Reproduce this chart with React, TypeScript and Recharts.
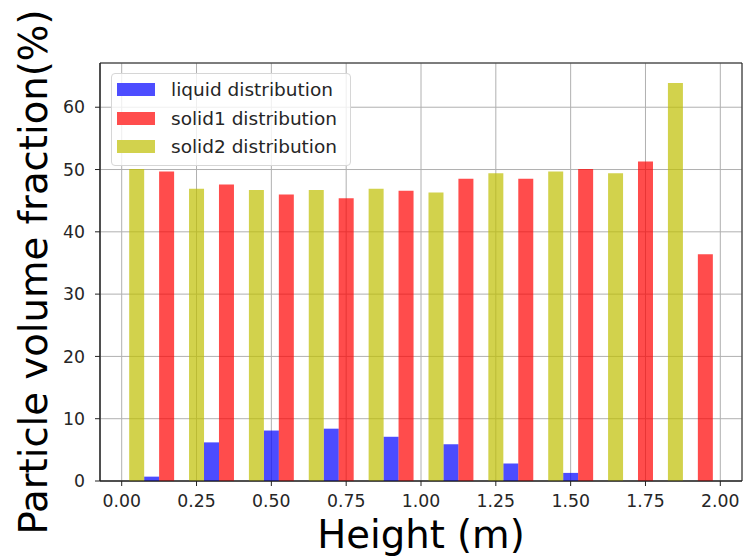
import React from 'react';
import { BarChart, Bar, XAxis, YAxis, CartesianGrid, Legend, ReferenceArea, Label } from 'recharts';

// Bar positions (m) and values (%) per series
const liquidX = [0.1, 0.3, 0.5, 0.7, 0.9, 1.1, 1.3, 1.5, 1.7, 1.9];
const liquidVals = [0.7, 6.2, 8.1, 8.4, 7.1, 5.9, 2.8, 1.3, 0, 0];
const solid1X = [0.15, 0.35, 0.55, 0.75, 0.95, 1.15, 1.35, 1.55, 1.75, 1.95];
const solid1Vals = [49.7, 47.6, 46.0, 45.4, 46.6, 48.5, 48.5, 50.1, 51.3, 36.4];
const solid2X = [0.05, 0.25, 0.45, 0.65, 0.85, 1.05, 1.25, 1.45, 1.65, 1.85];
const solid2Vals = [50.1, 46.9, 46.7, 46.7, 46.9, 46.3, 49.4, 49.7, 49.4, 63.9];

const seriesNames = ['liquid distribution', 'solid1 distribution', 'solid2 distribution'];
const seriesKeys = ['liquid', 'solid1', 'solid2'];
const seriesColors = ['#0000ff', '#ff0000', '#bfbf00'];
const legendColors = ['#4d4dff', '#ff4d4d', '#d2d24d'];

const xTicks = [0, 0.25, 0.5, 0.75, 1.0, 1.25, 1.5, 1.75, 2.0];
const yTicks = [0, 10, 20, 30, 40, 50, 60];
const xDomain = [-0.0725, 2.0725];
const yDomain = [0, 67.1];

const buildTable = () => {
  const map = new Map<number, any>();
  const add = (xs: number[], vs: number[], key: string) => {
    xs.forEach((x, i) => {
      const row = map.get(x) || { x };
      row[key] = vs[i];
      map.set(x, row);
    });
  };
  add(liquidX, liquidVals, 'liquid');
  add(solid1X, solid1Vals, 'solid1');
  add(solid2X, solid2Vals, 'solid2');
  return Array.from(map.values()).sort((a, b) => a.x - b.x);
};
const data = buildTable();

const FONT = '"DejaVu Sans", sans-serif';

const LegendBox = (props: any) => {
  const payload = props.payload || [];
  return (
    <div
      style={{
        boxSizing: 'border-box',
        width: 240,
        height: 93,
        background: 'rgba(255,255,255,0.8)',
        border: '1px solid #d6d6d6',
        borderRadius: 4,
        paddingTop: 1,
        paddingLeft: 5,
        fontFamily: FONT,
        fontSize: 18.5,
        color: '#262626',
      }}
    >
      {payload.map((p: any, i: number) => {
        const idx = seriesNames.indexOf(p.value);
        return (
          <div key={i} style={{ height: 28.7, display: 'flex', alignItems: 'center' }}>
            <div style={{ width: 38, height: 13, background: legendColors[idx >= 0 ? idx : i], marginRight: 16, flexShrink: 0 }} />
            <span style={{ whiteSpace: 'nowrap' }}>{p.value}</span>
          </div>
        );
      })}
    </div>
  );
};

const YLabel = (props: any) => {
  const vb = props.viewBox || {};
  const x = 47;
  const y = vb.y + vb.height / 2;
  return (
    <text
      x={x}
      y={y}
      transform={`rotate(-90, ${x}, ${y})`}
      textAnchor="middle"
      fontFamily={FONT}
      fontSize={38.6}
      fill="#000"
    >
      Particle volume fraction(%)
    </text>
  );
};

export default function App() {
  return (
    <div style={{ position: 'absolute', left: 0, top: 0, width: 743, height: 557, background: '#fff' }}>
      <BarChart
        width={743}
        height={557}
        data={data}
        margin={{ top: 63, right: 1, left: 0, bottom: 0 }}
        barCategoryGap={0}
        barGap={0}
      >
        <CartesianGrid stroke="#b0b0b0" strokeWidth={1} />
        <XAxis
          dataKey="x"
          type="number"
          domain={xDomain}
          allowDataOverflow
          ticks={xTicks}
          tickFormatter={(v: number) => v.toFixed(2)}
          height={76}
          tickSize={5}
          tickMargin={9}
          stroke="#222"
          tick={{ fill: '#262626', fontSize: 17.3, fontFamily: FONT }}
        >
          <Label value="Height (m)" position="insideBottom" offset={9} style={{ fontFamily: FONT, fontSize: 38.6, fill: '#000' }} />
        </XAxis>
        <YAxis
          type="number"
          domain={yDomain}
          allowDataOverflow
          ticks={yTicks}
          width={100}
          tickSize={5}
          tickMargin={10}
          stroke="#222"
          tick={{ fill: '#262626', fontSize: 17.3, fontFamily: FONT }}
          label={<YLabel />}
        />
        {seriesKeys.map((k, i) => (
          <Bar
            key={k}
            dataKey={k}
            name={seriesNames[i]}
            stackId="a"
            fill={seriesColors[i]}
            fillOpacity={0.7}
            isAnimationActive={false}
          />
        ))}
        <ReferenceArea x1={xDomain[0]} x2={xDomain[1]} y1={yDomain[0]} y2={yDomain[1]} fill="none" stroke="#222" strokeWidth={1} ifOverflow="visible" />
        <Legend
          layout="vertical"
          align="center"
          verticalAlign="middle"
          content={<LegendBox />}
          wrapperStyle={{ left: 111, top: 73, width: 240, height: 93 }}
        />
      </BarChart>
    </div>
  );
}
